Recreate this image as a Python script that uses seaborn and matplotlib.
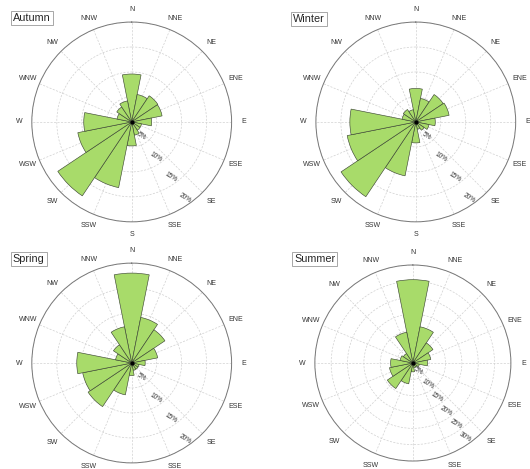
import numpy as np
import matplotlib
matplotlib.use("Agg")
import matplotlib.pyplot as plt
import seaborn as sns

# ---------------------------------------------------------------------------
# Data (frequency %, clockwise from N)
# ---------------------------------------------------------------------------
directions = ['N', 'NNE', 'NE', 'ENE', 'E', 'ESE', 'SE', 'SSE',
              'S', 'SSW', 'SW', 'WSW', 'W', 'WNW', 'NW', 'NNW']

autumn = [9.6, 5.6, 6.3, 6.2, 4.0, 2.0, 2.0, 2.7,
          4.8, 13.4, 17.8, 11.0, 9.6, 3.0, 3.6, 4.3]
winter = [6.7, 4.8, 6.6, 6.8, 3.9, 2.7, 2.0, 1.5,
          4.2, 11.0, 18.0, 14.0, 13.2, 2.8, 3.0, 2.5]
spring = [18.0, 9.3, 8.0, 5.3, 2.7, 1.5, 1.5, 1.5,
          2.5, 6.5, 10.5, 10.0, 11.0, 3.3, 4.4, 7.4]
summer = [25.5, 11.3, 7.4, 5.6, 4.5, 2.0, 1.5, 1.5,
          2.7, 6.5, 9.4, 7.3, 6.8, 4.0, 3.5, 9.6]

seasons = ['Autumn', 'Winter', 'Spring', 'Summer']
season_values = [autumn, winter, spring, summer]
ring_ticks = [[5, 10, 15, 20], [5, 10, 15, 20], [5, 10, 15, 20],
              [5, 10, 15, 20, 25, 30]]

# ---------------------------------------------------------------------------
# Style
# ---------------------------------------------------------------------------
sns.set_style("white")
plt.rcParams['font.family'] = ['Liberation Sans', 'DejaVu Sans']

bar_color = '#a8db6a'
edge_color = '#3f4a35'
grid_color = '#d0d0d0'

fig = plt.figure(figsize=(5.3, 4.69), dpi=100, facecolor='white')

# axes rectangles [left, bottom, width, height] in figure fraction
rects = [
    [0.060, 0.527, 0.377, 0.426],
    [0.596, 0.527, 0.377, 0.426],
    [0.060, 0.013, 0.377, 0.426],
    [0.594, 0.017, 0.370, 0.418],
]
title_pos = [(0.024, 0.972), (0.553, 0.970), (0.024, 0.458), (0.555, 0.458)]

theta = np.deg2rad(np.arange(len(directions)) * 22.5)
width = np.deg2rad(22.5)

for name, vals, ticks, rect, tpos in zip(seasons, season_values, ring_ticks,
                                         rects, title_pos):
    ax = fig.add_axes(rect, projection='polar')
    ax.set_theta_zero_location('N')
    ax.set_theta_direction(-1)
    rmax = ticks[-1]

    ax.bar(theta, vals, width=width, bottom=0, color=bar_color,
           edgecolor=edge_color, linewidth=0.45, zorder=3)
    ax.plot([0], [0], 'o', color='black', markersize=2, zorder=4)

    ax.set_ylim(0, rmax)
    ax.set_yticks(ticks)
    ax.set_yticklabels([])
    ax.set_xticks(theta)
    ax.set_xticklabels(directions, fontsize=5, color='#333333')
    ax.tick_params(axis='x', pad=2, length=2, color='#888888', direction='in')
    ax.grid(True, color=grid_color, linestyle=(0, (3, 2)), linewidth=0.5)
    ax.spines['polar'].set_color('#777777')
    ax.spines['polar'].set_linewidth(0.7)

    for t in ticks:
        ax.text(np.deg2rad(145), t - 0.07 * rmax, f'{t}%', fontsize=4.7,
                color='#333333', rotation=-32, ha='center', va='center',
                zorder=5)

    fig.text(tpos[0], tpos[1], name, fontsize=7.8, ha='left', va='top',
             bbox=dict(facecolor='white', edgecolor='#999999',
                       linewidth=0.6, boxstyle='square,pad=0.2'))

plt.savefig('out.png', dpi=100, facecolor='white')
